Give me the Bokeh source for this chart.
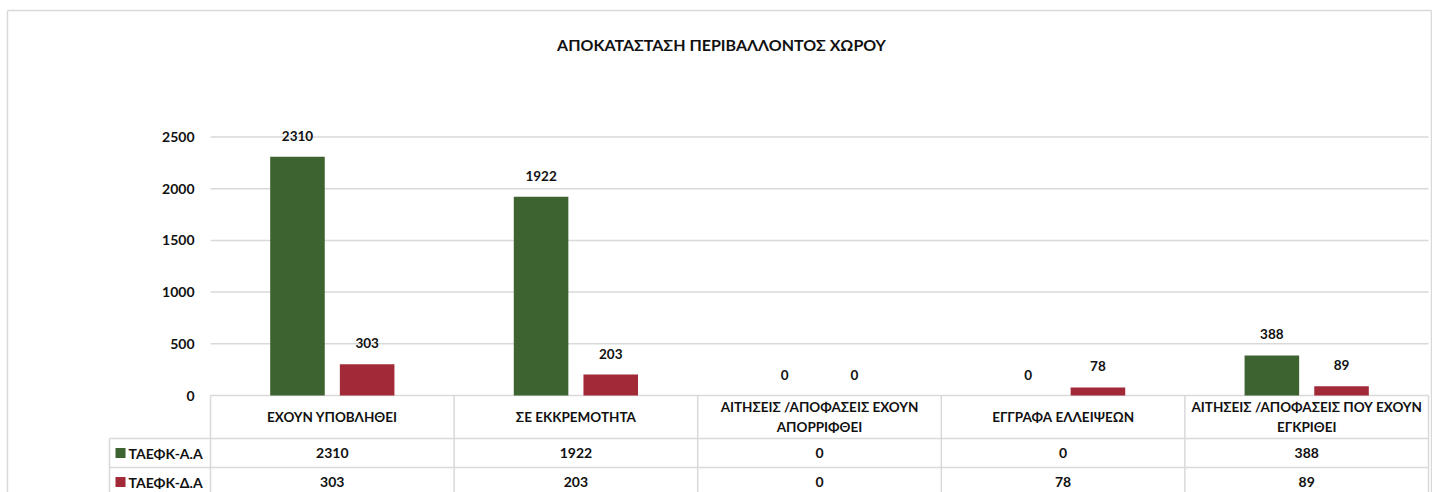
from bokeh.plotting import figure
from bokeh.models import Range1d, ColumnDataSource
from bokeh.core.properties import value
from bokeh.embed import file_html
from bokeh.resources import INLINE

# ---------------- data ----------------
title = "ΑΠΟΚΑΤΑΣΤΑΣΗ ΠΕΡΙΒΑΛΛΟΝΤΟΣ ΧΩΡΟΥ"
categories = [
    "ΕΧΟΥΝ ΥΠΟΒΛΗΘΕΙ",
    "ΣΕ ΕΚΚΡΕΜΟΤΗΤΑ",
    "ΑΙΤΗΣΕΙΣ /ΑΠΟΦΑΣΕΙΣ ΕΧΟΥΝ\nΑΠΟΡΡΙΦΘΕΙ",
    "ΕΓΓΡΑΦΑ ΕΛΛΕΙΨΕΩΝ",
    "ΑΙΤΗΣΕΙΣ /ΑΠΟΦΑΣΕΙΣ ΠΟΥ ΕΧΟΥΝ\nΕΓΚΡΙΘΕΙ",
]
series_names = ["ΤΑΕΦΚ-Α.Α", "ΤΑΕΦΚ-Δ.Α"]
taefk_aa = [2310, 1922, 0, 0, 388]
taefk_da = [303, 203, 0, 78, 89]
y_ticks = [0, 500, 1000, 1500, 2000, 2500]

# ---------------- style ----------------
FONT = "Lato"
GREEN = "#3d6331"
RED = "#a22938"
GRID = "#d9d9d9"
TXT = "#111111"

W, H = 1432, 492
# pixel geometry (canvas coords) used only for layout
PX_CAT = 243.6          # px per category
X0_PX = 210             # px of category axis start
Y0_PX = 395             # px of value 0
PX_UNIT = 0.1034        # px per value unit

def xd(px):
    return (px - X0_PX) / PX_CAT

def yd(py):
    return (Y0_PX - py) / PX_UNIT

p = figure(width=W, height=H, output_backend="svg", toolbar_location=None,
           x_range=Range1d(xd(0), xd(W)),
           y_range=Range1d(yd(H), yd(0)),
           min_border_left=0, min_border_right=0,
           min_border_top=0, min_border_bottom=0)
p.xaxis.visible = False
p.yaxis.visible = False
p.grid.visible = False
p.outline_line_color = None
p.background_fill_color = "white"
p.border_fill_color = "white"

# chart-area border (top, left, right; bottom is cut off)
bl, br, bt, bb = xd(7), xd(1431), yd(10), yd(H + 5)
p.segment(x0=[bl, bl, br], x1=[br, bl, br], y0=[bt, bt, bt], y1=[bt, bb, bb],
          line_color=GRID, line_width=1.5)

n = len(categories)
centers = [i + 0.5 for i in range(n)]
off = 0.143
bw = 0.224

# gridlines (value ticks)
p.segment(x0=[0] * len(y_ticks), x1=[n] * len(y_ticks), y0=y_ticks, y1=y_ticks,
          line_color=GRID, line_width=1.5)
p.text(x=[xd(194)] * len(y_ticks), y=y_ticks, text=[str(t) for t in y_ticks],
       text_font=value(FONT), text_font_style="bold", text_font_size="14px",
       text_align="right", text_baseline="middle", text_color=TXT)

# bars
src = ColumnDataSource(dict(
    xa=[c - off for c in centers], xb=[c + off for c in centers],
    a=taefk_aa, b=taefk_da,
    la=[str(v) for v in taefk_aa], lb=[str(v) for v in taefk_da]))
p.vbar(x="xa", top="a", bottom=0, width=bw, source=src, fill_color=GREEN, line_color=None)
p.vbar(x="xb", top="b", bottom=0, width=bw, source=src, fill_color=RED, line_color=None)
for xcol, ycol, lcol in (("xa", "a", "la"), ("xb", "b", "lb")):
    p.text(x=xcol, y=ycol, text=lcol, source=src, y_offset=-21,
           text_font=value(FONT), text_font_style="bold", text_font_size="13.5px",
           text_align="center", text_baseline="middle", text_color=TXT)

# title
p.text(x=[xd(721)], y=[yd(44)], text=[title], text_font=value(FONT),
       text_font_style="bold", text_font_size="16px", text_align="center",
       text_baseline="middle", text_color=TXT)

# data table
hdr_bot, r1_bot, r2_bot = yd(438), yd(467), yd(496)
left_x = xd(109)
# horizontal lines
p.segment(x0=[left_x, left_x, left_x], x1=[n, n, n], y0=[hdr_bot, r1_bot, r2_bot],
          y1=[hdr_bot, r1_bot, r2_bot], line_color=GRID, line_width=1.5)
# vertical lines
vx = list(range(n + 1))
p.segment(x0=vx, x1=vx, y0=[0] * len(vx), y1=[r2_bot] * len(vx),
          line_color=GRID, line_width=1.5)
p.segment(x0=[left_x], x1=[left_x], y0=[hdr_bot], y1=[r2_bot],
          line_color=GRID, line_width=1.5)

# header labels
p.text(x=centers, y=[(0 + hdr_bot) / 2] * n, text=categories, text_font=value(FONT),
       text_font_style="bold", text_font_size="13.5px", text_align="center",
       text_baseline="middle", text_line_height=1.2, text_color=TXT)

# rows
row_y = [(hdr_bot + r1_bot) / 2, (r1_bot + r2_bot) / 2]
for vals, ry in zip((taefk_aa, taefk_da), row_y):
    p.text(x=centers, y=[ry] * n, text=[str(v) for v in vals], text_font=value(FONT),
           text_font_style="bold", text_font_size="14px", text_align="center",
           text_baseline="middle", text_color=TXT)

# legend keys + series names
p.scatter(x=[xd(120)] * 2, y=row_y, marker="square", size=10,
          fill_color=[GREEN, RED], line_color=None)
p.text(x=[xd(128)] * 2, y=row_y, text=series_names, text_font=value(FONT),
       text_font_style="bold", text_font_size="14px", text_align="left",
       text_baseline="middle", text_color=TXT)

open("out.html", "w").write(file_html(p, INLINE))
